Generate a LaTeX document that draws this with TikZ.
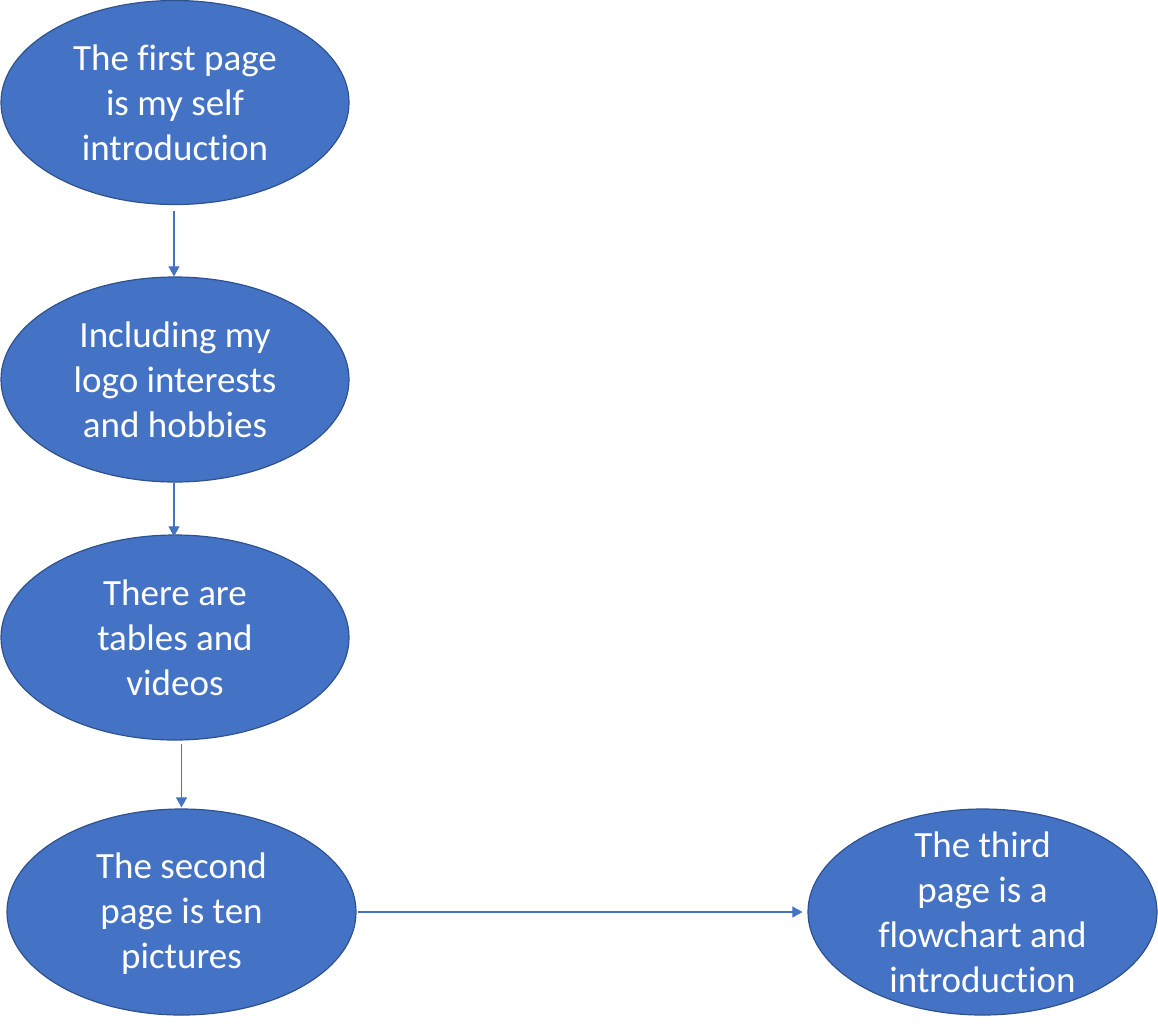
\documentclass[tikz,border=0pt]{standalone}
\usepackage{fontspec}
\setmainfont{Carlito}[Ligatures=CommonOff]
\usetikzlibrary{shapes.geometric,arrows.meta,calc}
\definecolor{bluefill}{HTML}{4472C4}
\definecolor{blueedge}{HTML}{2F528F}
\tikzset{
  oval/.style={ellipse, draw=blueedge, fill=bluefill, line width=1.2pt, inner sep=0pt, minimum width=348pt, minimum height=204pt},
  txt/.style={text=white, align=center, inner sep=0pt, font=\fontsize{37}{45}\selectfont},
  conn/.style={draw=bluefill, line width=1.1pt, -{Triangle[width=11pt,length=10pt]}}
}
\begin{document}
\begin{tikzpicture}[x=1pt,y=1pt]
\useasboundingbox (0,0) rectangle (1158,-1026);
\node[oval] (e1) at (175,-102.5) {};
\node[oval, minimum height=205pt] (e2) at (175,-379.5) {};
\node[oval, minimum height=205pt] (e3) at (175,-637.5) {};
\node[oval, minimum width=349pt, minimum height=206pt] (e4) at (181.5,-912) {};
\node[oval, minimum width=349pt, minimum height=206pt] (e5) at (982.5,-912) {};
\node[txt] (t1) at (e1) {The first page\\is my self\\introduction};
\node[txt] (t2) at (e2) {Including my\\logo interests\\and hobbies};
\node[txt] (t3) at (e3) {There are\\tables and\\videos};
\node[txt] (t4) at ($(e4)+(0,-2)$) {The second\\page is ten\\pictures};
\node[txt] (t5) at (e5) {The third\\page is a\\flowchart and\\introduction};
\draw[conn] ($(e1.south)+(-1,-6)$) -- ($(e2.north)+(-1,0)$);
\draw[conn] ($(e2.south)+(-1,0)$) -- ($(e3.north)+(-1,-2)$);
\draw[conn] ($(e3.south)+(6.5,-3)$) -- ($(e4.north)+(0,1)$);
\draw[conn] ($(e4.east)+(1,0)$) -- ($(e5.west)+(-5,0)$);
\end{tikzpicture}
\end{document}
